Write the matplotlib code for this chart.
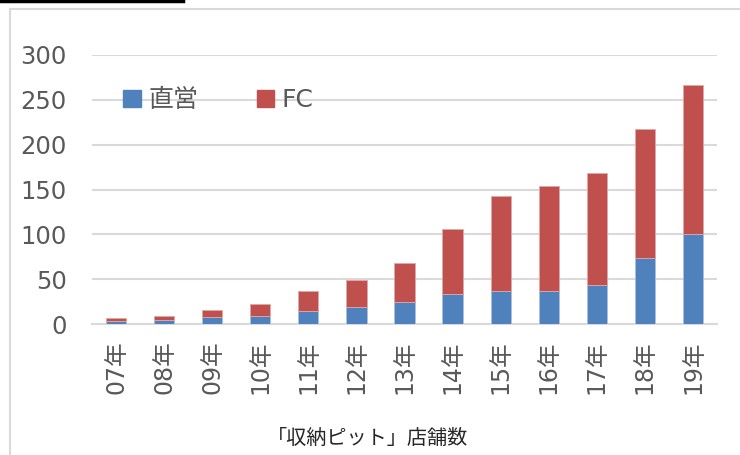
import matplotlib.pyplot as plt
from matplotlib.patches import Patch
from matplotlib.lines import Line2D

plt.rcParams['font.family'] = ['DejaVu Sans', 'Noto Sans CJK JP']

years = ["07年", "08年", "09年", "10年", "11年", "12年", "13年",
         "14年", "15年", "16年", "17年", "18年", "19年"]
direct = [3, 5, 8, 9, 15, 19, 24, 33, 37, 37, 43, 74, 100]
total = [7, 9, 16, 22, 37, 49, 68, 106, 143, 154, 168, 217, 266]
fc = [t - d for t, d in zip(total, direct)]

blue = "#4F81BD"
red = "#C0504D"
grey = "#595959"

fig = plt.figure(figsize=(7.4, 4.55), dpi=100)
ax = fig.add_axes([92 / 740, 1 - 324 / 455, (717 - 92) / 740, (324 - 55) / 455])

x = range(len(years))
ax.bar(x, direct, width=0.42, color=blue, edgecolor="#a9c0de", linewidth=0.6, zorder=3)
ax.bar(x, fc, bottom=direct, width=0.42, color=red, edgecolor="#e0a9a8", linewidth=0.6, zorder=3)

ax.set_ylim(0, 300)
ax.set_xlim(-0.5, len(years) - 0.5)
ax.set_yticks(range(0, 301, 50))
ax.yaxis.grid(True, color="#d9d9d9", linewidth=1.5, zorder=0)
ax.set_axisbelow(True)
for s in ["top", "right", "left"]:
    ax.spines[s].set_visible(False)
ax.spines["bottom"].set_color("#d9d9d9")
ax.spines["bottom"].set_linewidth(1.5)
ax.tick_params(axis="y", length=0, pad=18, labelsize=17.5, labelcolor=grey)
ax.tick_params(axis="x", length=0, pad=12, labelsize=17, labelcolor=grey)
ax.set_xticks(list(x))
ax.set_xticklabels(years, rotation=90)

handles = [Patch(color=blue), Patch(color=red)]
fig.legend(handles, ["直営", "FC"], ncol=2, frameon=False,
           loc="center left", bbox_to_anchor=(123 / 740, 1 - 100 / 455),
           borderpad=0, borderaxespad=0,
           handlelength=0.7, handleheight=0.7, handletextpad=0.3,
           columnspacing=2.35, fontsize=18, labelcolor=grey)

fig.text(368 / 740, 1 - 438 / 455, "「収納ピット」店舗数", ha="center", va="center",
         fontsize=14.5, color="#262626", family=["Noto Sans CJK JP"])

# outer frame lines and top black bar
fig.add_artist(Line2D([10 / 740, 1], [1 - 9 / 455, 1 - 9 / 455], color="#d9d9d9", linewidth=1.5))
fig.add_artist(Line2D([10 / 740, 10 / 740], [0, 1 - 9 / 455], color="#d9d9d9", linewidth=1.5))
fig.add_artist(Line2D([0, 183 / 740], [1 - 1 / 455, 1 - 1 / 455], color="black", linewidth=2.5))

fig.savefig("out.png", dpi=100)
